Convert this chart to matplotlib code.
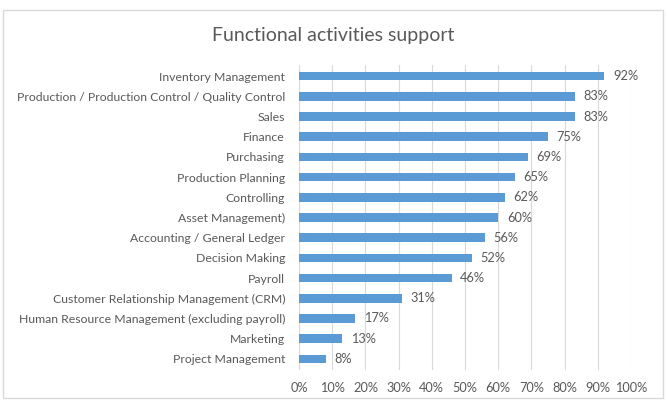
import matplotlib.pyplot as plt
from matplotlib.patches import FancyBboxPatch

# Data
activities = [
    "Inventory Management",
    "Production / Production Control / Quality Control",
    "Sales",
    "Finance",
    "Purchasing",
    "Production Planning",
    "Controlling",
    "Asset Management)",
    "Accounting / General Ledger",
    "Decision Making",
    "Payroll",
    "Customer Relationship Management (CRM)",
    "Human Resource Management (excluding payroll)",
    "Marketing",
    "Project Management",
]
support = [92, 83, 83, 75, 69, 65, 62, 60, 56, 52, 46, 31, 17, 13, 8]
x_ticks = [0, 10, 20, 30, 40, 50, 60, 70, 80, 90, 100]

plt.rcParams['font.family'] = ['Lato', 'DejaVu Sans']
text_col = '#595959'

fig = plt.figure(figsize=(6.67, 4.03), dpi=100)
ax = fig.add_axes([299 / 667, 1 - 370 / 403, 332 / 667, 305 / 403])

y = list(range(len(activities)))[::-1]
ax.barh(y, support, height=0.42, color='#5B9BD5', zorder=3)
for yi, v in zip(y, support):
    ax.text(v + 2.6, yi, f"{v}%", va='center', ha='left', fontsize=9.2, color=text_col)

ax.set_xlim(0, 100)
ax.set_ylim(-0.55, len(activities) - 0.45)
ax.set_xticks(x_ticks)
ax.set_xticklabels([f"{t}%" for t in x_ticks])
ax.set_yticks(y)
ax.set_yticklabels(activities, fontsize=8.8)
ax.tick_params(axis='both', length=0, colors=text_col)
ax.tick_params(axis='x', pad=9, labelsize=9.2)
ax.tick_params(axis='y', pad=10)
ax.grid(axis='x', color='#D9D9D9', linewidth=0.8, zorder=0)
for s in ax.spines.values():
    s.set_visible(False)
ax.axvline(0, color='#D9D9D9', linewidth=0.8, zorder=1)

fig.text(0.5, 1 - 35 / 403, "Functional activities support", ha='center', va='center',
         fontsize=14, color=text_col)

# chart border
border = FancyBboxPatch((3 / 667, 1 - 398 / 403), 660 / 667, 388 / 403,
                        boxstyle="square,pad=0", transform=fig.transFigure,
                        fill=False, edgecolor='#D9D9D9', linewidth=1)
fig.patches.append(border)

fig.savefig('out.png', dpi=100)
